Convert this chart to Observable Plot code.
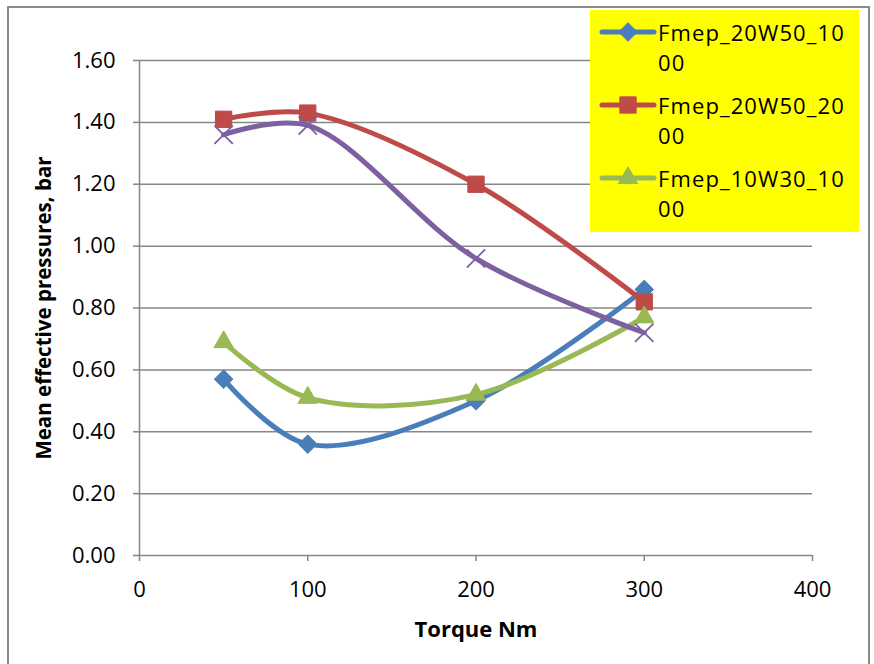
<!DOCTYPE html>
<html>
<head>
<meta charset="utf-8">
<script src="https://cdn.jsdelivr.net/npm/d3@7"></script>
<script src="https://cdn.jsdelivr.net/npm/@observablehq/plot@0.6"></script>
<style>
  html, body { margin: 0; padding: 0; background: #fff; }
  #wrap { position: relative; width: 874px; height: 664px; overflow: hidden; background: #fff; }
  #frame { position: absolute; left: 7px; top: 6px; width: 863px; height: 680px; border: 2px solid #8a8a8a; box-sizing: border-box; pointer-events: none; }
  #chart { position: absolute; left: 0; top: 0; }
  #legend { position: absolute; left: 590px; top: 10px; width: 269px; height: 222px; background: #ffff00; font-family: "Open Sans", sans-serif; font-size: 22px; letter-spacing: 1.1px; color: #000; }
  .entry { position: absolute; left: 0; width: 269px; height: 62px; }
  .entry svg { position: absolute; left: 9px; top: 0; }
  .entry .ln { position: absolute; left: 68px; height: 30px; line-height: 30px; white-space: nowrap; }
</style>
</head>
<body>
<div id="wrap">
  <div id="chart"></div>
  <div id="legend"></div>
  <div id="frame"></div>
</div>
<script>
// ---- data ----
const torque = [50, 100, 200, 300];
const fmep_20W50_1000 = [0.57, 0.36, 0.50, 0.86];
const fmep_20W50_2000 = [1.41, 1.43, 1.20, 0.82];
const fmep_10W30_1000 = [0.69, 0.51, 0.52, 0.77];
const fmep_10W30_2000 = [1.36, 1.39, 0.96, 0.72];
const seriesNames = ["Fmep_20W50_1000", "Fmep_20W50_2000", "Fmep_10W30_1000", "Fmep_10W30_2000"];
const legendLines = [["Fmep_20W50_10", "00"], ["Fmep_20W50_20", "00"], ["Fmep_10W30_10", "00"]];
const xTicks = [0, 100, 200, 300, 400];
const yTicks = [0, 0.2, 0.4, 0.6, 0.8, 1.0, 1.2, 1.4, 1.6];
const xLabel = "Torque Nm";
const yLabel = "Mean effective pressures, bar";

// ---- styles ----
const colors = ["#4a7ebb", "#be4b48", "#98b954", "#7d60a0"];
const symbols = ["diamond2", "square", "triangle", "times"];
const radii = [8.4, 9.2, 7.2, 8.4];

const seriesValues = [fmep_20W50_1000, fmep_20W50_2000, fmep_10W30_1000, fmep_10W30_2000];
const rows = seriesValues.map((vals, s) => torque.map((t, i) => ({series: seriesNames[s], s, torque: t, value: vals[i]})));

const marks = [
  Plot.ruleY(yTicks, {stroke: "#878787", strokeWidth: 1.5}),
  Plot.ruleX([0], {stroke: "#878787", strokeWidth: 1.5}),
  Plot.axisY({ticks: yTicks, tickFormat: d => d.toFixed(2), tickSize: 6, tickPadding: 18, stroke: "#878787", strokeWidth: 1.5, fontSize: 22, fill: "#000", label: null}),
  Plot.axisX({ticks: xTicks, tickFormat: d => String(d), tickSize: 6, tickPadding: 20, stroke: "#878787", strokeWidth: 1.5, fontSize: 22, fill: "#000", label: null}),
  Plot.text([xLabel], {frameAnchor: "bottom", dy: 74, lineAnchor: "middle", textAnchor: "middle", fontSize: 22, fontWeight: "bold", fill: "#000"}),
  Plot.text([yLabel], {frameAnchor: "left", dx: -95, rotate: -90, lineAnchor: "middle", textAnchor: "middle", fontSize: 20.5, fontWeight: "bold", fill: "#000"})
];

rows.forEach((data, s) => {
  marks.push(Plot.line(data, {x: "torque", y: "value", curve: "catmull-rom", stroke: colors[s], strokeWidth: 5, strokeLinejoin: "round", strokeLinecap: "round"}));
  if (symbols[s] === "times") {
    marks.push(Plot.dot(data, {x: "torque", y: "value", symbol: symbols[s], r: radii[s], stroke: colors[s], strokeWidth: 1.8, fill: "none"}));
  } else {
    marks.push(Plot.dot(data, {x: "torque", y: "value", symbol: symbols[s], r: radii[s], fill: colors[s], stroke: colors[s], strokeWidth: 1}));
  }
});

const chart = Plot.plot({
  width: 874,
  height: 664,
  marginLeft: 139,
  marginRight: 62,
  marginTop: 60,
  marginBottom: 109,
  style: {fontFamily: "'Open Sans', sans-serif", background: "transparent", overflow: "visible"},
  x: {domain: [0, 400]},
  y: {domain: [0, 1.6]},
  marks
});
document.getElementById("chart").appendChild(chart);

// ---- legend (3 visible entries, the box is clipped like in the reference) ----
const legend = document.getElementById("legend");
legendLines.forEach((lines, s) => {
  const e = document.createElement("div");
  e.className = "entry";
  e.style.top = (7 + s * 73) + "px";
  const sym = d3.symbol().type(
    symbols[s] === "diamond2" ? d3.symbolDiamond2 : symbols[s] === "square" ? d3.symbolSquare : d3.symbolTriangle
  ).size(Math.PI * radii[s] * radii[s])();
  e.innerHTML = `<svg width="60" height="30" viewBox="0 0 60 30">
      <line x1="3" y1="15" x2="55" y2="15" stroke="${colors[s]}" stroke-width="5" stroke-linecap="round"/>
      <path d="${sym}" transform="translate(29,15)" fill="${colors[s]}" stroke="${colors[s]}"/>
    </svg><div class="ln" style="top:0px">${lines[0]}</div><div class="ln" style="top:30px">${lines[1]}</div>`;
  legend.appendChild(e);
});
</script>
</body>
</html>
